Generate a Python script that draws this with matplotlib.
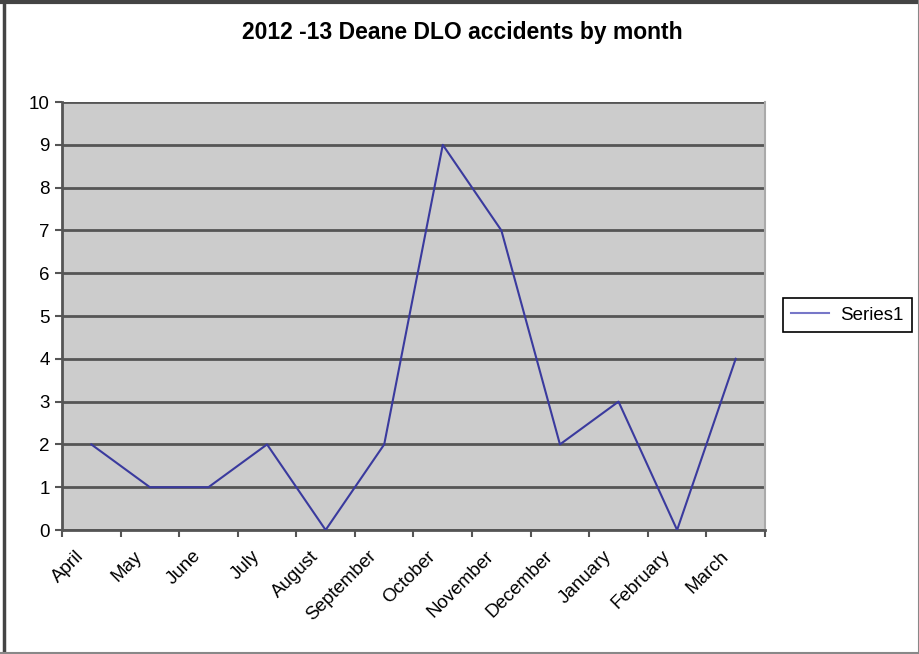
"""
Deane DLO accidents by month, 2012-13 (Excel-style line chart)
"""

import matplotlib.pyplot as plt
from matplotlib.lines import Line2D
from matplotlib.transforms import ScaledTranslation
import numpy as np

plt.rcParams["font.family"] = ["Liberation Sans", "DejaVu Sans"]

# Data
months = ["April", "May", "June", "July", "August", "September", "October",
          "November", "December", "January", "February", "March"]
accidents = [2, 1, 1, 2, 0, 2, 9, 7, 2, 3, 0, 4]
series_name = "Series1"

fig = plt.figure(figsize=(9.2, 6.54), dpi=100)
ax = fig.add_axes([0.0674, 0.1896, 0.7641, 0.6544])

x = np.arange(len(months))
ax.plot(x, accidents, color="#3a3a9e", lw=1.5, label=series_name, zorder=3)

ax.set_facecolor("#cccccc")
ax.set_xlim(-0.5, len(months) - 0.5)
ax.set_ylim(0, 10)
ax.set_yticks(range(0, 11))
ax.yaxis.grid(True, color="#555555", lw=2)
ax.set_axisbelow(True)

# category ticks sit between the categories, labels at the centres
ax.set_xticks(np.arange(-0.5, len(months)), minor=False)
ax.set_xticklabels([])
ax.set_xticks(x, minor=True)
ax.set_xticklabels(months, minor=True, rotation=45, ha="right",
                   rotation_mode="anchor", fontsize=13.5)
ax.tick_params(axis="x", which="major", length=5, width=1.5, color="#555555")
ax.tick_params(axis="x", which="minor", length=0, pad=9)
ax.tick_params(axis="y", length=5, width=1.5, color="#555555", labelsize=13.5,
               pad=4)
shift = ScaledTranslation(-0.16, -0.05, fig.dpi_scale_trans)
for lbl in ax.get_xticklabels(minor=True):
    lbl.set_transform(lbl.get_transform() + shift)

for side in ("left", "bottom"):
    ax.spines[side].set_color("#555555")
    ax.spines[side].set_linewidth(2)
ax.spines["top"].set_visible(False)
ax.spines["right"].set_color("#aaaaaa")
ax.spines["right"].set_linewidth(1.5)

fig.text(0.503, 0.951, "2012 -13 Deane DLO accidents by month",
         ha="center", va="center", fontsize=16.5, fontweight="bold")

leg = ax.legend(loc="center", bbox_to_anchor=(0.921, 0.518),
                bbox_transform=fig.transFigure, fontsize=13.5,
                fancybox=False, edgecolor="black", framealpha=1,
                handlelength=2.0, handletextpad=0.6, borderpad=0.45,
                borderaxespad=0)
leg.get_frame().set_linewidth(1.2)
leg.get_lines()[0].set_color("#7777c8")

# outer chart border: dark top/left, lighter right/bottom
tf = fig.transFigure
fig.lines.append(Line2D([0.004, 0.004], [0, 1], transform=tf, color="#444444", lw=2.5))
fig.lines.append(Line2D([0, 1], [0.997, 0.997], transform=tf, color="#444444", lw=3))
fig.lines.append(Line2D([0.9985, 0.9985], [0, 1], transform=tf, color="#888888", lw=1.5))
fig.lines.append(Line2D([0, 1], [0.002, 0.002], transform=tf, color="#888888", lw=1.5))

fig.savefig("out.png", dpi=100)
print("Saved out.png")
